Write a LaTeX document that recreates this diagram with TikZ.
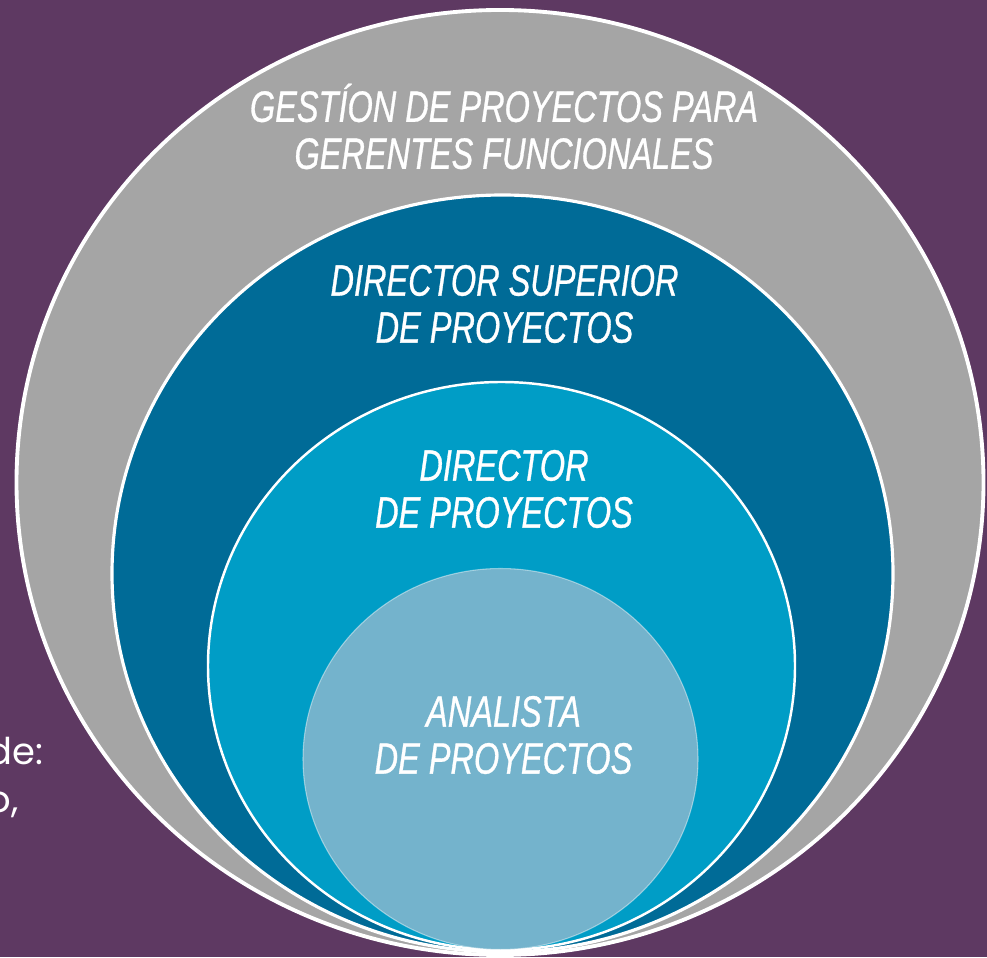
\documentclass[tikz,border=0pt]{standalone}
\usepackage{fontspec}
\newfontfamily\labelfont{Liberation Sans}[FakeStretch=0.74,FakeBold=0.7]
\newfontfamily\sidefont{Poppins}
\definecolor{BackClr}{RGB}{94,57,98}
\definecolor{GrayClr}{RGB}{165,165,165}
\definecolor{DeepClr}{RGB}{0,107,151}
\definecolor{MidClr}{RGB}{0,157,198}
\definecolor{PaleClr}{RGB}{116,179,204}

\begin{document}
\begin{tikzpicture}[x=0.02cm,y=0.02cm,
  ring/.style={draw=white,line width=2.2pt},
  label/.style={text=white,align=center,inner sep=0pt,
    font=\labelfont\itshape\fontsize{25}{26.75}\selectfont},
  side/.style={text=white,inner sep=0pt,anchor=base east,
    font=\sidefont\fontsize{21}{27}\selectfont}]

\useasboundingbox (0,0) rectangle (987,957);
\fill[BackClr] (0,0) rectangle (987,957);

% nested circles, all touching at the bottom
\draw[ring,fill=GrayClr] (500,474.5) ellipse [x radius=483.5,y radius=472.5];
\draw[ring,fill=DeepClr,line width=1.8pt] (502.5,383.5) ellipse [x radius=390.5,y radius=378.5];
\draw[ring,fill=MidClr,line width=1.4pt] (501.5,291) ellipse [x radius=293.5,y radius=284];
\draw[draw=white,draw opacity=0.45,line width=0.6pt,fill=PaleClr] (500.5,198) ellipse [x radius=197.5,y radius=190.5];

\node[label] (gestion) at (504,830.5) {GESTÍON DE PROYECTOS PARA\\GERENTES FUNCIONALES};
\node[label] (superior) at (504.5,653) {DIRECTOR SUPERIOR\\DE PROYECTOS};
\node[label] (director) at (504,468) {DIRECTOR\\DE PROYECTOS};
\node[label] (analista) at (503.5,222) {ANALISTA\\DE PROYECTOS};

% text cut off at the left edge
\node[side] (sideA) at (44,193) {de:};
\node[side] (sideB) at (19,145) {o,};

\end{tikzpicture}
\end{document}
